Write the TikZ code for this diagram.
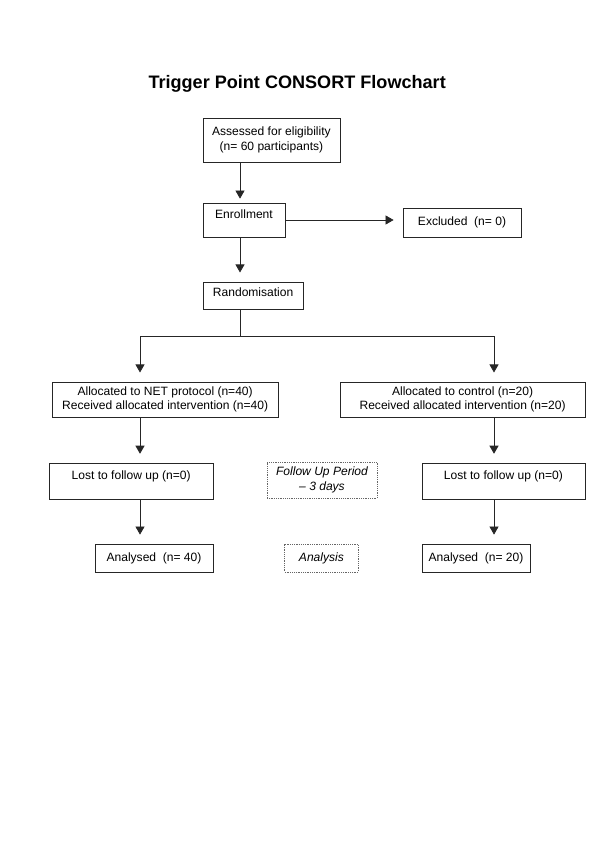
\documentclass[tikz,border=0pt]{standalone}
\usepackage{fontspec}
\setmainfont{Liberation Sans}
\usetikzlibrary{arrows.meta}

\begin{document}
\begin{tikzpicture}[
        box/.style={rectangle, draw=black!85, line width=0.7pt, align=center, inner sep=2pt, font=\fontsize{12}{14.5}\selectfont},
        phasebox/.style={rectangle, draw=black!60, densely dotted, line width=0.8pt, align=center, inner sep=2pt, font=\fontsize{12}{14.5}\selectfont\itshape},
        lift/.style={text depth=#1},
        arrow/.style={->, >={Triangle[length=8pt,width=9pt]}, line width=0.7pt, draw=black!85, shorten >=9pt},
        link/.style={line width=0.7pt, draw=black!85}
    ]

    \useasboundingbox (0,0) rectangle (21,-29.715);

    % Title
    \node[font=\fontsize{18}{20}\selectfont\bfseries] (title) at (10.40,-2.94) {Trigger Point CONSORT Flowchart};

    % Enrolment
    \node[box, minimum width=4.80cm, minimum height=1.54cm] (assessed) at (9.50,-4.90) {Assessed for eligibility\\(n= 60 participants)};
    \node[box, lift=12pt, minimum width=2.87cm, minimum height=1.19cm] (enrol) at (8.54,-7.70) {Enrollment};
    \node[box, minimum width=4.13cm, minimum height=1.02cm] (excluded) at (16.17,-7.79) {Excluded~~(n= 0)};
    \node[box, lift=6pt, minimum width=3.50cm, minimum height=0.95cm] (random) at (8.86,-10.34) {Randomisation};

    % Allocation
    \node[box, minimum width=7.91cm, minimum height=1.23cm] (allocnet) at (5.78,-13.98) {Allocated to NET protocol (n=40)\\Received allocated intervention (n=40)};
    \node[box, minimum width=8.58cm, minimum height=1.23cm] (allocctl) at (16.19,-13.98) {Allocated to control (n=20)\\Received allocated intervention (n=20)};

    % Follow up
    \node[box, lift=12pt, minimum width=5.74cm, minimum height=1.26cm] (lostnet) at (4.59,-16.84) {Lost to follow up (n=0)};
    \node[phasebox, minimum width=3.85cm, minimum height=1.26cm] (followup) at (11.27,-16.80) {Follow Up Period\\-- 3 days};
    \node[box, lift=12pt, minimum width=5.71cm, minimum height=1.26cm] (lostctl) at (17.62,-16.84) {Lost to follow up (n=0)};

    % Analysis
    \node[box, minimum width=4.13cm, minimum height=0.98cm] (ananet) at (5.39,-19.53) {Analysed~~(n= 40)};
    \node[phasebox, minimum width=2.56cm, minimum height=0.98cm] (analysis) at (11.25,-19.53) {Analysis};
    \node[box, minimum width=3.78cm, minimum height=0.98cm] (anactl) at (16.66,-19.53) {Analysed~~(n= 20)};

    % Branch points
    \coordinate (split) at (8.40,-11.76);
    \coordinate (leftcol) at (4.90,-11.76);
    \coordinate (rightcol) at (17.29,-11.76);

    % Arrows
    \draw[arrow, shorten >=4pt] (assessed.south -| split) -- (enrol.north -| split);
    \draw[arrow] (enrol.east) -- (enrol.east -| excluded.west);
    \draw[arrow] (enrol.south -| split) -- (random.north -| split);
    \draw[link] (random.south -| split) -- (split);
    \draw[arrow] (leftcol) -- (rightcol) -- (allocctl.north -| rightcol);
    \draw[arrow] (leftcol) -- (allocnet.north -| leftcol);
    \draw[arrow] (allocnet.south -| leftcol) -- (lostnet.north -| leftcol);
    \draw[arrow] (allocctl.south -| rightcol) -- (lostctl.north -| rightcol);
    \draw[arrow] (lostnet.south -| leftcol) -- (ananet.north -| leftcol);
    \draw[arrow] (lostctl.south -| rightcol) -- (anactl.north -| rightcol);

    \end{tikzpicture}
\end{document}
